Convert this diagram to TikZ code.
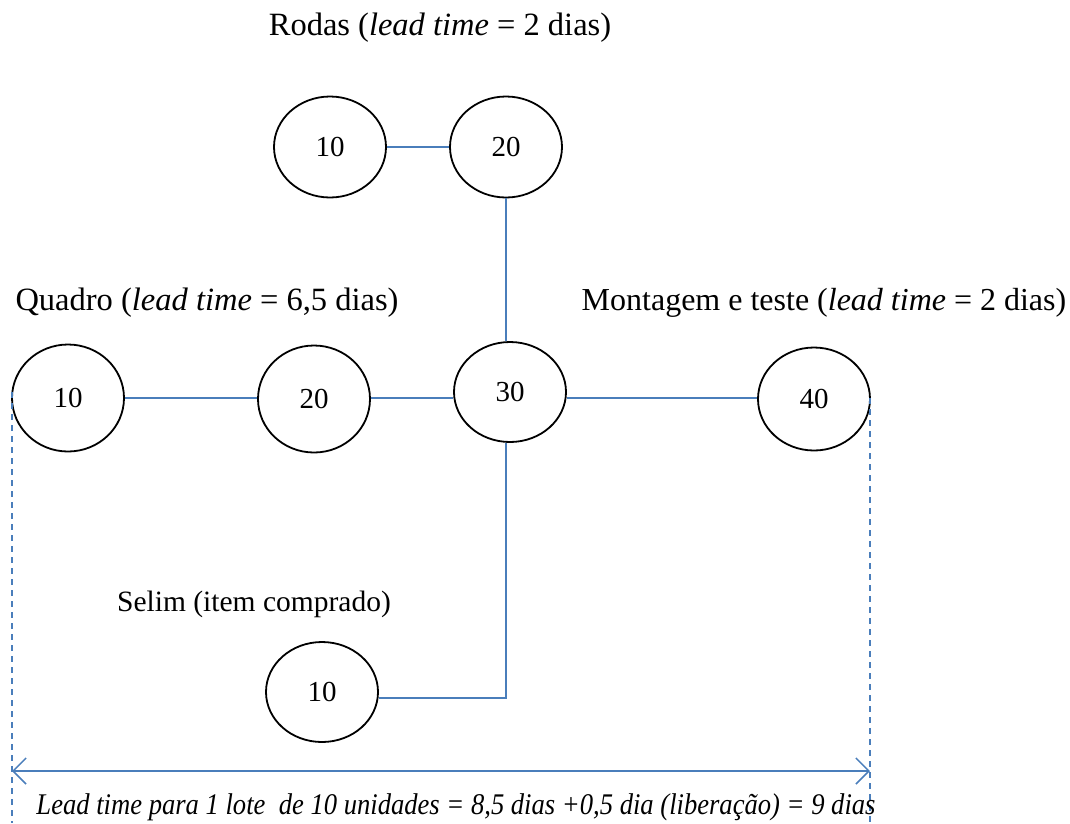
\documentclass[tikz,border=0pt]{standalone}
\usepackage{fontspec}
\setmainfont{Liberation Serif}
\usepackage{graphicx}
\usetikzlibrary{shapes.geometric,arrows.meta}
\definecolor{lineblue}{HTML}{4A7EBB}
\tikzset{
  op/.style={draw=black, line width=1.8pt, ellipse, minimum width=#1, minimum height=100pt, inner sep=0pt, font=\fontsize{29}{30}\selectfont},
  op/.default=112pt,
  link/.style={draw=lineblue, line width=2.2pt},
  dim/.style={draw=lineblue, line width=1.3pt, dash pattern=on 6pt off 5pt},
  lbl/.style={font=\fontsize{32.5}{34}\selectfont, inner sep=0pt}
}
\begin{document}
\begin{tikzpicture}[x=1pt,y=-1pt]
\useasboundingbox (0,0) rectangle (1070,823);
% labels
\node[lbl] (trodas) at (440,28) {Rodas (\textit{lead time} = 2 dias)};
\node[lbl] (tquadro) at (207,303) {Quadro (\textit{lead time} = 6,5 dias)};
\node[lbl, font=\fontsize{32}{34}\selectfont] (tmont) at (824,303) {Montagem e teste (\textit{lead time} = 2 dias)};
\node[lbl, font=\fontsize{29.5}{32}\selectfont] (tselim) at (254,604) {Selim (item comprado)};
% nodes
\node[op, minimum height=101pt] (r10) at (330,147) {10};
\node[op, minimum height=101pt] (r20) at (506,147) {20};
\node[op, minimum height=107pt] (q10) at (68,398) {10};
\node[op, minimum height=107pt] (q20) at (314,399) {20};
\node[op, minimum height=100pt] (m30) at (510,392) {30};
\node[op, minimum height=103pt] (m40) at (814,399) {40};
\node[op, minimum height=100pt] (s10) at (322,692) {10};
% connectors
\draw[link] (r10.east) -- (r20.west);
\draw[link] (r20.south) -- (r20.south |- m30.north);
\draw[link] (q10.east |- 0,398) -- (q20.west |- 0,398);
\draw[link] (q20.east |- 0,398) -- (m30.west |- 0,398);
\draw[link] (m30.east |- 0,398) -- (m40.west |- 0,398);
\coordinate (corner) at (506,698);
\draw[link] (s10.east |- corner) -- (corner) -- (corner |- m30.south);
% dimension
\coordinate (dl) at (12,771);
\coordinate (dr) at (870,771);
\draw[dim] (12,392) -- (12,823);
\draw[dim] (870,398) -- (870,823);
\draw[draw=lineblue, line width=1.5pt, {Straight Barb[length=13pt,width=26pt]}-{Straight Barb[length=13pt,width=26pt]}] (dl) -- (dr);
\node[inner sep=0pt] (tbottom) at (456,807) {\resizebox{839pt}{\height}{\fontsize{30}{32}\selectfont\itshape Lead time para 1 lote\ \ de 10 unidades = 8,5 dias +0,5 dia (liberação) = 9 dias}};
\end{tikzpicture}
\end{document}
